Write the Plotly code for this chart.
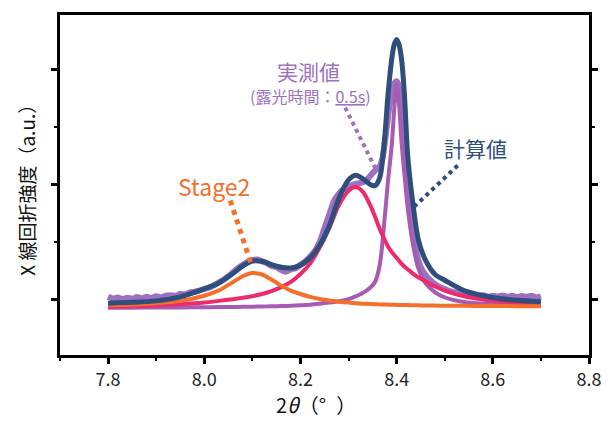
import plotly.graph_objects as go

# ---- measured XRD profile (2θ in degrees, intensity in arbitrary units) ----
two_theta_meas = [
    7.80, 7.81, 7.82, 7.83, 7.84, 7.85, 7.86, 7.87, 7.88, 7.89,
    7.90, 7.91, 7.92, 7.93, 7.94, 7.95, 7.96, 7.97, 7.98, 7.99,
    8.00, 8.01, 8.02, 8.03, 8.04, 8.05, 8.06, 8.07, 8.08, 8.09,
    8.10, 8.11, 8.12, 8.13, 8.14, 8.15, 8.16, 8.17, 8.18, 8.19,
    8.20, 8.21, 8.22, 8.23, 8.24, 8.25, 8.26, 8.27, 8.28, 8.29,
    8.30, 8.31, 8.32, 8.33, 8.34, 8.35, 8.36, 8.365, 8.37, 8.375,
    8.38, 8.385, 8.39, 8.395, 8.40, 8.405, 8.41, 8.415, 8.42, 8.425,
    8.43, 8.435, 8.44, 8.445, 8.45, 8.46, 8.47, 8.48, 8.49, 8.50,
    8.51, 8.52, 8.53, 8.54, 8.55, 8.56, 8.57, 8.58, 8.59, 8.60,
    8.61, 8.62, 8.63, 8.64, 8.65, 8.66, 8.67, 8.68, 8.69, 8.70,
]
intensity_meas = [
    0.020, 0.005, 0.015, 0.000, 0.012, 0.004, 0.018, 0.008, 0.020, 0.010,
    0.025, 0.015, 0.030, 0.035, 0.028, 0.045, 0.040, 0.060, 0.065, 0.075,
    0.090, 0.100, 0.120, 0.145, 0.170, 0.200, 0.235, 0.270, 0.300, 0.325,
    0.340, 0.345, 0.330, 0.315, 0.290, 0.280, 0.255, 0.240, 0.260, 0.270,
    0.300, 0.330, 0.370, 0.420, 0.500, 0.620, 0.740, 0.860, 0.920, 0.960,
    0.980, 1.000, 1.010, 1.020, 1.050, 1.100, 1.140, 1.160, 1.220, 1.350,
    1.520, 1.680, 1.800, 1.880, 1.900, 1.850, 1.620, 1.350, 1.080, 0.850,
    0.680, 0.540, 0.430, 0.340, 0.280, 0.210, 0.165, 0.130, 0.105, 0.088,
    0.070, 0.060, 0.050, 0.045, 0.035, 0.040, 0.030, 0.035, 0.020, 0.030,
    0.022, 0.032, 0.020, 0.030, 0.018, 0.028, 0.020, 0.030, 0.015, 0.025,
]

# ---- fitted profiles on a common 2θ grid ----
two_theta_fit = [
    7.80, 7.85, 7.90, 7.95, 8.00, 8.03, 8.06, 8.08, 8.10, 8.12,
    8.14, 8.16, 8.18, 8.20, 8.22, 8.24, 8.26, 8.28, 8.30, 8.315,
    8.33, 8.345, 8.355, 8.365, 8.375, 8.382, 8.39, 8.395, 8.40, 8.405,
    8.41, 8.416, 8.423, 8.433, 8.445, 8.46, 8.48, 8.50, 8.54, 8.60,
    8.65, 8.70,
]
fit_total = [
    -0.035, -0.028, -0.015, 0.020, 0.090, 0.140, 0.225, 0.290, 0.333, 0.330,
    0.300, 0.278, 0.272, 0.295, 0.360, 0.470, 0.640, 0.880, 1.040, 1.080,
    1.050, 1.000, 0.990, 1.060, 1.400, 1.780, 2.100, 2.220, 2.265, 2.220,
    2.100, 1.800, 1.250, 0.860, 0.520, 0.340, 0.215, 0.165, 0.075, 0.015,
    -0.010, -0.022,
]
fit_stage2 = [
    -0.053, -0.047, -0.036, -0.015, 0.030, 0.075, 0.150, 0.200, 0.228, 0.215,
    0.170, 0.118, 0.075, 0.045, 0.020, 0.002, -0.012, -0.022, -0.030, -0.035,
    -0.039, -0.042, -0.044, -0.046, -0.047, -0.048, -0.049, -0.049, -0.050, -0.050,
    -0.051, -0.051, -0.052, -0.053, -0.054, -0.055, -0.056, -0.057, -0.058, -0.060,
    -0.061, -0.062,
]
fit_middle = [
    -0.066, -0.062, -0.055, -0.045, -0.030, -0.015, 0.000, 0.012, 0.026, 0.045,
    0.070, 0.105, 0.150, 0.220, 0.310, 0.450, 0.620, 0.820, 0.945, 0.977,
    0.935, 0.820, 0.720, 0.610, 0.520, 0.460, 0.410, 0.385, 0.360, 0.335,
    0.310, 0.285, 0.260, 0.225, 0.190, 0.155, 0.110, 0.075, 0.025, -0.015,
    -0.032, -0.043,
]
fit_sharp = [
    -0.075, -0.074, -0.073, -0.072, -0.070, -0.069, -0.068, -0.067, -0.066, -0.064,
    -0.062, -0.060, -0.057, -0.053, -0.048, -0.040, -0.030, -0.018, 0.000, 0.025,
    0.055, 0.100, 0.150, 0.300, 0.700, 1.030, 1.350, 1.660, 1.876, 1.700,
    1.380, 1.100, 0.800, 0.500, 0.270, 0.140, 0.060, 0.015, -0.025, -0.045,
    -0.055, -0.060,
]

C_MEAS = "#9d70c1"
C_SHARP = "#a75bb2"
C_MIDDLE = "#ee2a6b"
C_STAGE2 = "#f36f2b"
C_TOTAL = "#2f4e7c"
FONT = "Noto Sans CJK JP"

fig = go.Figure()
fig.add_trace(go.Scatter(x=two_theta_meas, y=intensity_meas, mode="lines",
                         line=dict(color=C_MEAS, width=6, shape="spline", smoothing=0.6)))
fig.add_trace(go.Scatter(x=two_theta_fit, y=fit_sharp, mode="lines",
                         line=dict(color=C_SHARP, width=4, shape="spline", smoothing=0.8)))
fig.add_trace(go.Scatter(x=two_theta_fit, y=fit_middle, mode="lines",
                         line=dict(color=C_MIDDLE, width=4, shape="spline", smoothing=0.8)))
fig.add_trace(go.Scatter(x=two_theta_fit, y=fit_stage2, mode="lines",
                         line=dict(color=C_STAGE2, width=4, shape="spline", smoothing=0.8)))
fig.add_trace(go.Scatter(x=two_theta_fit, y=fit_total, mode="lines",
                         line=dict(color=C_TOTAL, width=5, shape="spline", smoothing=0.8)))

# dotted leader lines from the labels to the curves
leaders = [
    (8.054, 0.861, 8.097, 0.313, C_STAGE2, 5),
    (8.293, 1.670, 8.356, 1.139, C_MEAS, 4),
    (8.527, 1.165, 8.435, 0.800, C_TOTAL, 4),
]
for x0, y0, x1, y1, col, w in leaders:
    fig.add_shape(type="line", xref="x", yref="y", x0=x0, y0=y0, x1=x1, y1=y1,
                  line=dict(color=col, width=w, dash="dot"))

labels = [
    (8.020, 0.991, "Stage2", C_STAGE2, 23),
    (8.217, 1.990, "実測値", C_MEAS, 21),
    (8.221, 1.770, "(露光時間：<u>0.5s</u>)", C_MEAS, 16),
    (8.564, 1.322, "計算値", C_TOTAL, 21),
]
for x, y, t, col, sz in labels:
    fig.add_annotation(x=x, y=y, xref="x", yref="y", text=t, showarrow=False,
                       font=dict(family=FONT, size=sz, color=col),
                       xanchor="center", yanchor="middle")

# axis titles
fig.add_annotation(x=(321 - 60) / 540, y=-0.193, xref="paper", yref="paper",
                   text="2<i>θ</i>（°\u2002）", showarrow=False,
                   font=dict(family=FONT, size=20, color="#111"),
                   xanchor="center", yanchor="bottom")
fig.add_annotation(x=-0.0648, y=0.50, xref="paper", yref="paper",
                   text="X 線回折強度（a.u.）", showarrow=False, textangle=-90,
                   font=dict(family=FONT, size=19, color="#111"),
                   xanchor="center", yanchor="middle")

fig.update_layout(
    width=614, height=422,
    margin=dict(l=60, r=14, t=14, b=67),
    paper_bgcolor="white", plot_bgcolor="white",
    showlegend=False,
    font=dict(family=FONT, color="#222"),
)
fig.update_xaxes(
    range=[7.7, 8.8], tick0=7.8, dtick=0.2, tickformat=".1f",
    ticks="outside", ticklen=6, tickwidth=3, tickcolor="black",
    showline=True, linewidth=3, linecolor="black", mirror=True,
    showgrid=False, zeroline=False,
    tickfont=dict(family=FONT, size=18, color="#222"),
    minor=dict(dtick=0.1, tick0=7.7, ticks="outside", ticklen=3, tickwidth=2, tickcolor="black"),
)
fig.update_yaxes(
    range=[-0.487, 2.478], tick0=0, dtick=1, showticklabels=False,
    ticks="outside", ticklen=6, tickwidth=3, tickcolor="black",
    showline=True, linewidth=3, linecolor="black", mirror="ticks",
    showgrid=False, zeroline=False,
    minor=dict(dtick=0.5, tick0=0, ticks="outside", ticklen=3, tickwidth=2, tickcolor="black"),
)

fig.write_html("out.html")
